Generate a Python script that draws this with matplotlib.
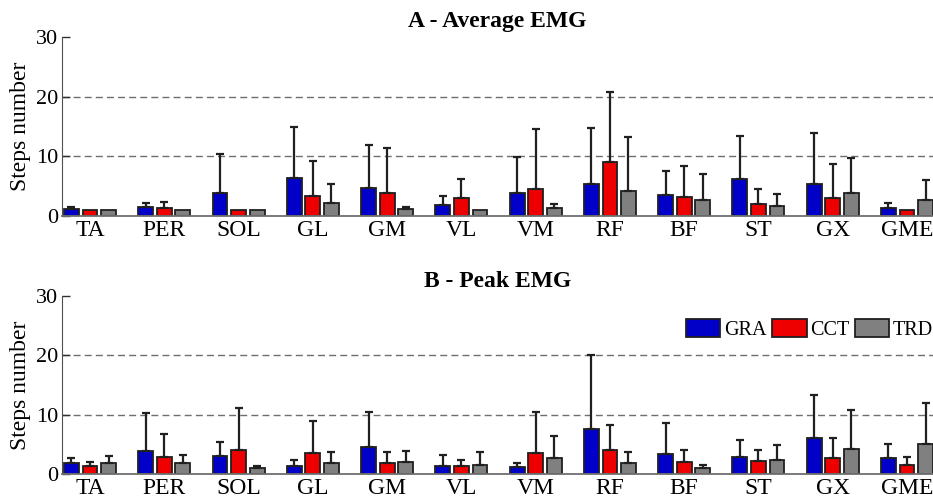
import numpy as np
import matplotlib
matplotlib.use("Agg")
from matplotlib import pyplot as plt

plt.rcParams['font.family'] = ['Liberation Serif', 'DejaVu Serif']

muscles = ["TA", "PER", "SOL", "GL", "GM", "VL", "VM", "RF", "BF", "ST", "GX", "GME"]
groups = ["GRA", "CCT", "TRD"]
colors = ["#0000C8", "#EE0000", "#808080"]

# A - Average EMG: mean and upper error (SD)
avg_gra = [1.05, 1.4, 3.75, 6.3, 4.6, 1.8, 3.75, 5.25, 3.45, 6.15, 5.3, 1.35]
avg_gra_sd = [0.45, 0.7, 6.65, 8.55, 7.3, 1.55, 6.15, 9.45, 4.05, 7.3, 8.6, 0.7]
avg_cct = [1.0, 1.35, 1.0, 3.35, 3.8, 3.0, 4.55, 8.95, 3.15, 2.0, 3.0, 1.0]
avg_cct_sd = [0.0, 1.0, 0.0, 5.9, 7.6, 3.15, 10.05, 11.75, 5.25, 2.4, 5.6, 0.0]
avg_trd = [1.0, 1.0, 1.0, 2.2, 1.05, 1.0, 1.2, 4.15, 2.6, 1.6, 3.75, 2.65]
avg_trd_sd = [0.0, 0.0, 0.0, 3.05, 0.45, 0.0, 0.75, 9.15, 4.35, 2.0, 5.9, 3.35]

# B - Peak EMG
peak_gra = [1.85, 3.85, 2.95, 1.4, 4.55, 1.4, 1.2, 7.6, 3.4, 2.85, 6.1, 2.6]
peak_gra_sd = [0.9, 6.5, 2.5, 0.9, 5.85, 1.7, 0.65, 12.5, 5.15, 2.9, 7.25, 2.5]
peak_cct = [1.3, 2.85, 4.1, 3.55, 1.75, 1.35, 3.5, 4.1, 1.95, 2.2, 2.65, 1.55]
peak_cct_sd = [0.65, 3.8, 7.05, 5.45, 1.9, 0.95, 6.9, 4.1, 2.05, 1.8, 3.45, 1.25]
peak_trd = [1.75, 1.85, 1.0, 1.85, 1.95, 1.55, 2.75, 1.85, 1.0, 2.35, 4.25, 5.1]
peak_trd_sd = [1.2, 1.4, 0.4, 1.8, 1.9, 2.05, 3.7, 1.85, 0.45, 2.6, 6.45, 6.8]

yticks = [0, 10, 20, 30]
dashed_levels = [10, 20]


def draw_panel(ax, title, means, sds, legend=False):
    x = np.arange(len(muscles))
    offsets = [-0.25, 0.0, 0.25]
    for lvl in dashed_levels:
        ax.axhline(lvl, color="#6e6e6e", lw=1.0, ls=(0, (5, 3)), zorder=0)
    for k in range(3):
        xs = x + offsets[k]
        ax.bar(xs, means[k], width=0.2, color=colors[k], edgecolor="#202020",
               linewidth=1.3, label=groups[k], zorder=2)
        sd = np.array(sds[k])
        keep = sd > 0  # no bar shown where SD is zero
        ax.errorbar(xs[keep], np.array(means[k])[keep],
                    yerr=[np.zeros(keep.sum()), sd[keep]],
                    fmt="none", ecolor="#202020", elinewidth=1.6,
                    capsize=2.6, capthick=1.6, zorder=3)
    ax.set_xlim(-0.377, 11.35)
    ax.set_ylim(0, 30)
    ax.set_yticks(yticks)
    ax.set_xticks(x)
    ax.set_xticklabels(muscles, fontsize=17)
    ax.tick_params(axis="x", length=0, pad=3)
    ax.tick_params(axis="y", direction="in", length=6, width=1, colors="#303030",
                   labelsize=16, labelcolor="black", pad=3)
    for s in ["top", "right"]:
        ax.spines[s].set_visible(False)
    ax.spines["left"].set_color("#505050")
    ax.spines["bottom"].set_color("#707070")
    ax.spines["bottom"].set_linewidth(1.3)
    ax.set_ylabel("Steps number", fontsize=17, labelpad=3)
    ax.set_title(title, fontsize=17, fontweight="bold", pad=7)
    if legend:
        ax.legend(loc="center right", bbox_to_anchor=(1.0, 0.812), ncol=3,
                  frameon=False, fontsize=14.5, handlelength=1.7, handleheight=1.0,
                  handletextpad=0.17, columnspacing=0.3, borderpad=0, borderaxespad=0)


fig = plt.figure(figsize=(9.33, 4.98), dpi=100)
ax_a = fig.add_axes([0.0665, 0.567, 0.9335, 0.3584])
ax_b = fig.add_axes([0.0665, 0.0486, 0.9335, 0.3565])

draw_panel(ax_a, "A - Average EMG",
           [avg_gra, avg_cct, avg_trd], [avg_gra_sd, avg_cct_sd, avg_trd_sd])
draw_panel(ax_b, "B - Peak EMG",
           [peak_gra, peak_cct, peak_trd], [peak_gra_sd, peak_cct_sd, peak_trd_sd],
           legend=True)

fig.savefig("out.png", dpi=100)
